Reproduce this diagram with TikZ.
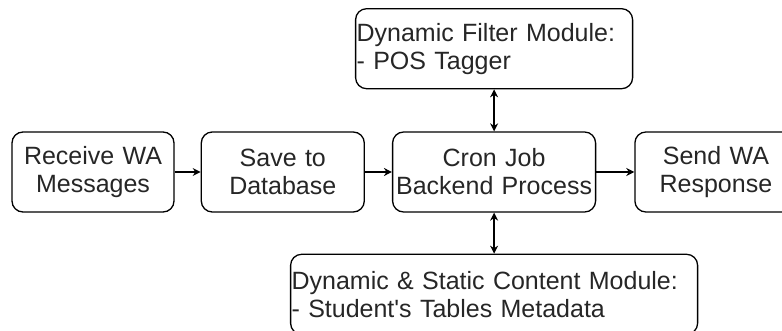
\documentclass[tikz,border=0pt]{standalone}
\usepackage{fontspec}
\setmainfont{Liberation Sans}
\usetikzlibrary{arrows.meta,positioning}

\begin{document}
\begin{tikzpicture}[>={Stealth[length=8pt,width=8pt]}, line width=1.3pt]
                \tikzstyle{block} = [draw, rectangle, rounded corners=11pt, minimum height=80pt, inner xsep=2pt, align=center, text=black!85, font=\fontsize{25}{28}\selectfont]
                \tikzstyle{module} = [block, inner xsep=1pt, align=left]

                \path[use as bounding box, clip] (0,0) rectangle (782pt,-331pt);

                \node [block, text width=158pt] (receive) at (93pt,-172pt) {Receive WA Messages};
                \node [block, text width=159pt, right = 26pt of receive] (save) {Save to Database};
                \node [block, text width=199pt, right = 27pt of save] (cron) {Cron Job Backend Process};
                \node [block, text width=158pt, right = 38pt of cron] (send) {Send WA Response};
                \node [module, text width=275pt, above = 42pt of cron] (filter) {Dynamic Filter Module:\\- POS Tagger};
                \node [module, text width=405pt, below = 41pt of cron] (content) {Dynamic \& Static Content Module:\\- Student\textquotesingle s Tables Metadata};

                \draw [->] (receive) -- (save);
                \draw [->] (save) -- (cron);
                \draw [->] (cron) -- (send);
                \draw [<->] (filter) -- (cron);
                \draw [<->] (cron) -- (content);
\end{tikzpicture}
\end{document}
